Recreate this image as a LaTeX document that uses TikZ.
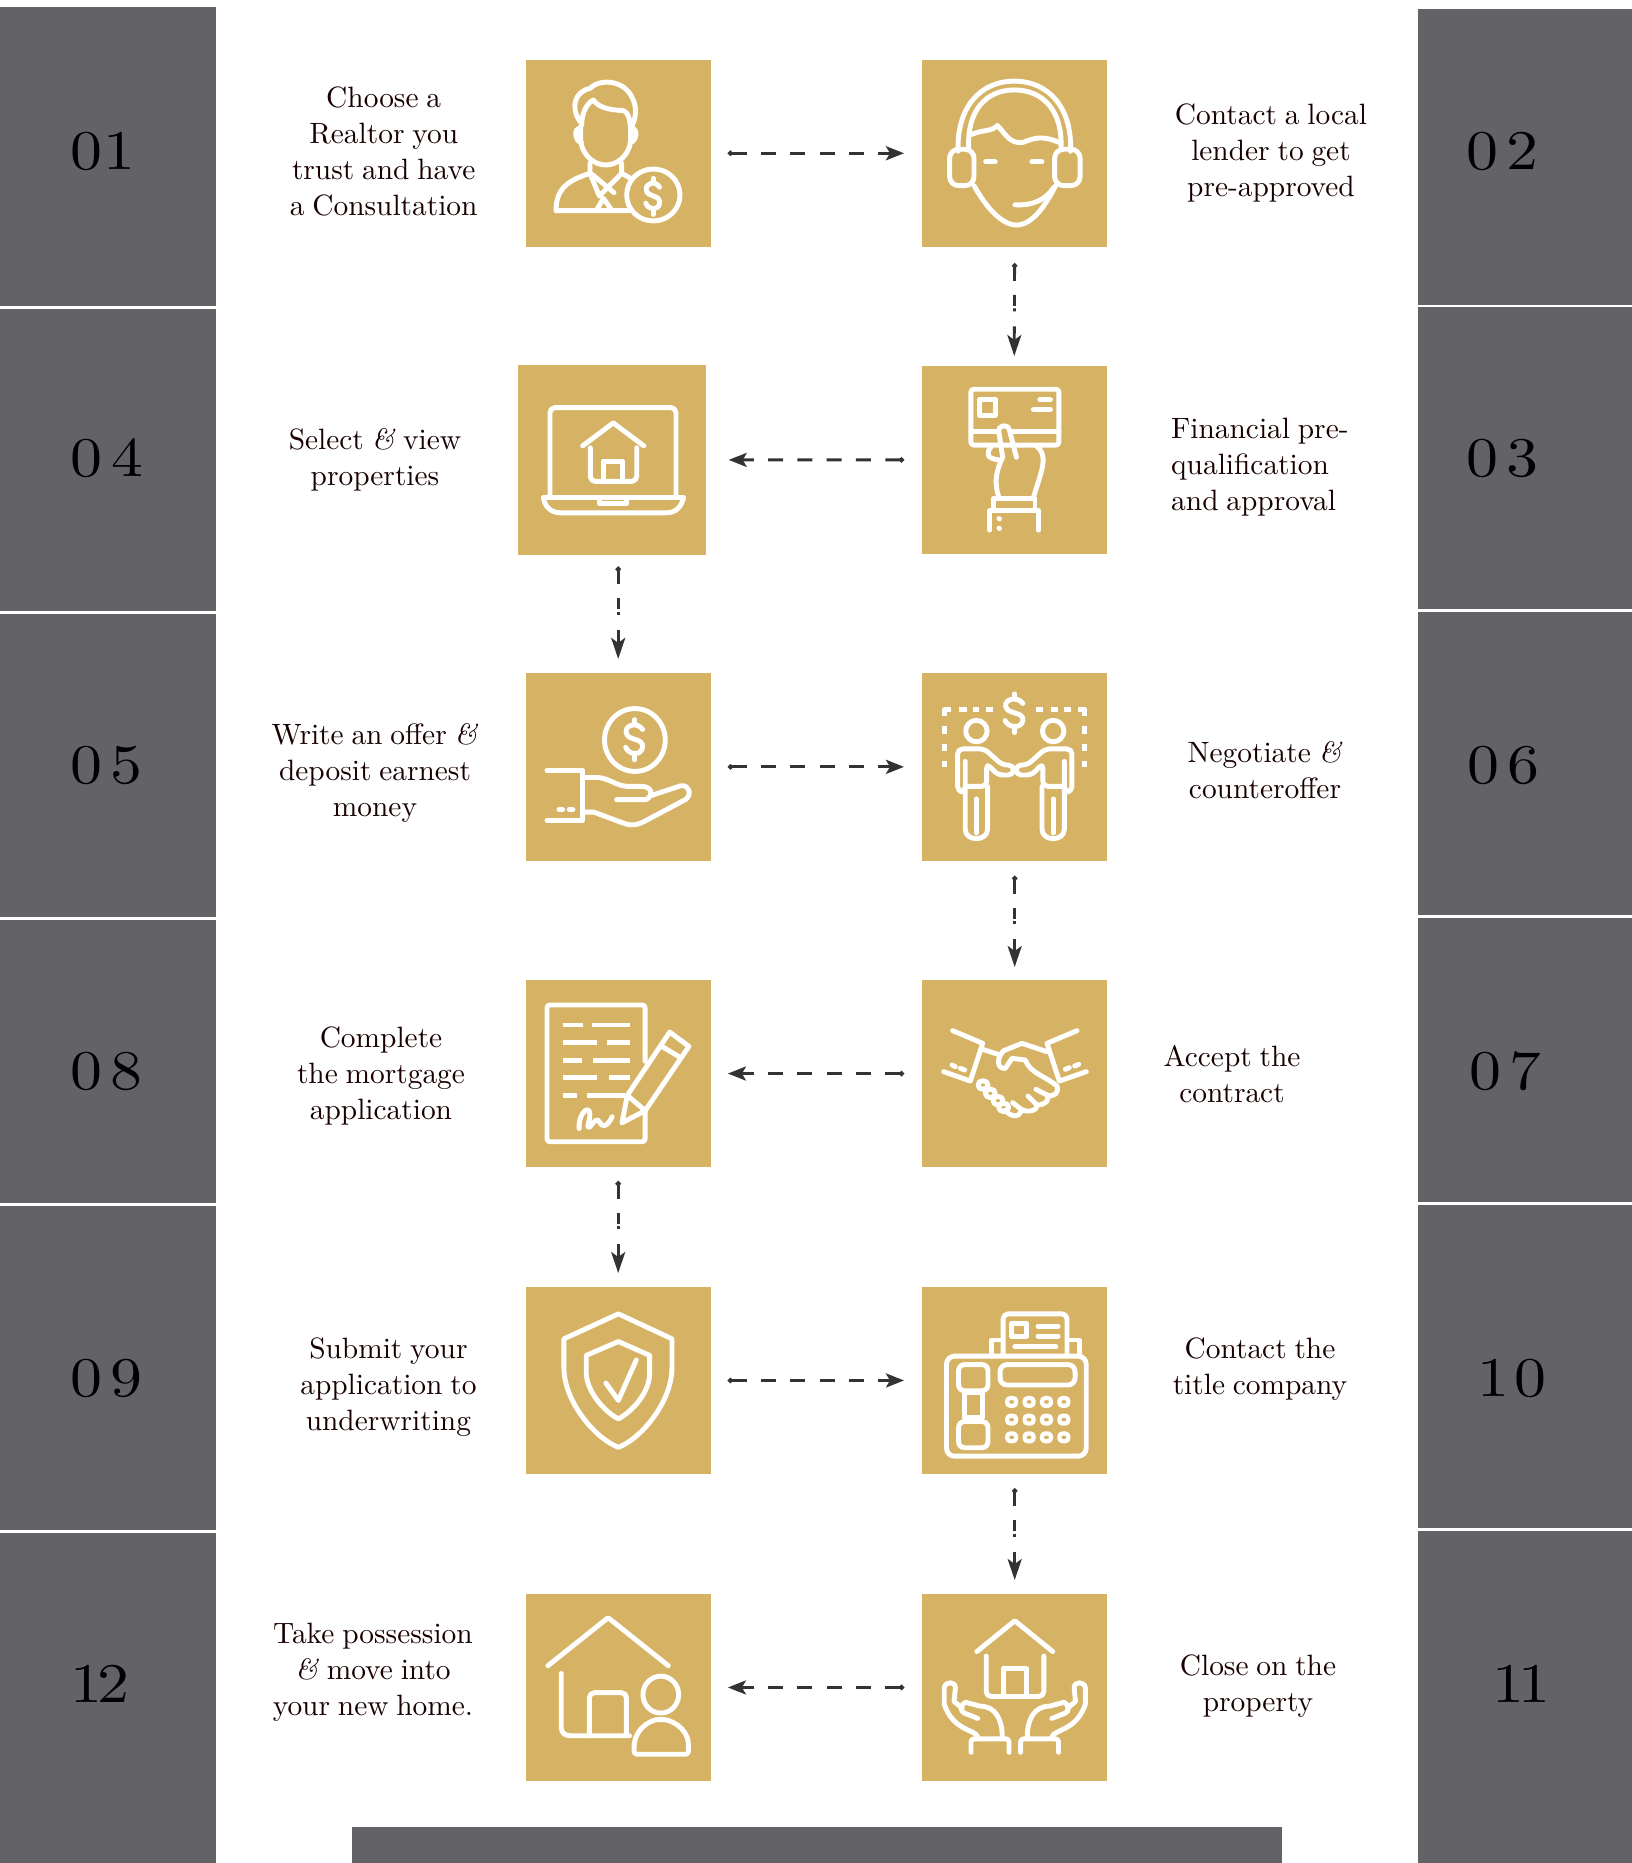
\documentclass[tikz,border=0pt]{standalone}
\usepackage{fontspec}
\usepackage{graphicx}
\setmainfont{lmroman10-regular.otf}[ItalicFont=lmroman10-italic.otf,WordSpace=0.8]
\usetikzlibrary{arrows.meta,calc}
\definecolor{bandgrey}{HTML}{636266}
\definecolor{gold}{HTML}{D6B364}
\definecolor{arrowdark}{HTML}{333333}
\tikzset{
  goldbox/.style={fill=gold,inner sep=0pt,anchor=north west,minimum width=#1,minimum height=187.5pt},
  ic/.style={draw=white,line width=4.9pt,line join=round,line cap=round,fill=none},
  lab/.style={text=black!90!red,align=center,inner sep=0pt,font=\fontsize{29.4}{36}\selectfont},
  numb/.style={text=black,inner sep=0pt,anchor=base west,font=\fontsize{56}{60}\selectfont},
  hlink/.style={draw=arrowdark,line width=3pt,dash pattern=on 15pt off 14.3pt,
    {Circle[length=5pt]}-{Stealth[length=18pt,width=14pt,inset=4pt]}},
  vlink/.style={draw=arrowdark,line width=2.8pt,dash pattern=on 14pt off 14pt on 11pt off 2.5pt on 3pt off 15pt on 100pt off 1pt,
    {Circle[length=5pt]}-{Stealth[length=21pt,width=14pt,inset=5pt]}},
  zA/.style={x=0.5102pt,y=-0.3827pt},
  zB/.style={x=0.5305pt,y=-0.3827pt},
  zC/.style={x=0.4464pt,y=-0.3571pt},
  zD/.style={x=0.4464pt,y=-0.3846pt},
  zT/.style={x=0.3333pt,y=-0.3333pt},
}
\newcommand\dollarmark[4]{\begin{scope}[shift={(#1,#2)},xscale=#3,yscale=#4]
  \draw[ic] (15,-22) .. controls (5,-40) and (-20,-32) .. (-17,-15) .. controls (-14,5) and (17,-5) .. (15,18) .. controls (12,38) and (-12,35) .. (-18,18);
  \draw[ic] (0,-44)--(0,-34) (0,34)--(0,46);
\end{scope}}
\newcommand\nm[3][7pt]{\scalebox{1.14}[1]{#2\kern#1 #3}}
\begin{document}
\begin{tikzpicture}[x=1pt,y=-1pt]
\useasboundingbox (0,0) rectangle (1632,1863);
\fill[white] (0,0) rectangle (1632,1863);
% side bands
\foreach \t/\b in {7/306,309/611,614/917,920/1203,1206/1530,1533/1863}
  \fill[bandgrey] (0,\t) rectangle (216,\b);
\foreach \t/\b in {9/304.5,307/609,611.5/915,918/1202,1205/1528,1531/1863}
  \fill[bandgrey] (1418,\t) rectangle (1632,\b);
\fill[bandgrey] (351.6,1826.5) rectangle (1281.6,1863);
% numbers
\node[numb] (n01) at (70.5,169.5) {\nm[1pt]{0}{1}};
\node[numb] (n04) at (70.5,476) {\nm[8pt]{0}{4}};
\node[numb] (n05) at (70.5,783) {\nm{0}{5}};
\node[numb] (n08) at (70.5,1089) {\nm{0}{8}};
\node[numb] (n09) at (70.5,1396) {\nm{0}{9}};
\node[numb] (n12) at (70,1702) {\nm[-4pt]{1}{2}};
\node[numb] (n02) at (1466,169.5) {\nm{0}{2}};
\node[numb] (n03) at (1466,476) {\nm{0}{3}};
\node[numb] (n06) at (1467,783) {\nm{0}{6}};
\node[numb] (n07) at (1469,1089) {\nm{0}{7}};
\node[numb] (n10) at (1477,1396) {\nm[5pt]{1}{0}};
\node[numb] (n11) at (1492,1702) {\nm[-5pt]{1}{1}};
% gold boxes
\node[goldbox=185pt] (b1) at (525.5,59.3) {};
\node[goldbox=185pt] (b2) at (922,59.3) {};
\node[goldbox=185pt] (b3) at (921.5,366) {};
\node[goldbox=188pt,minimum height=190pt] (b4) at (517.3,364.7) {};
\node[goldbox=185pt] (b5) at (525.5,672.9) {};
\node[goldbox=185pt] (b6) at (922,672.9) {};
\node[goldbox=185pt] (b7) at (922,979.6) {};
\node[goldbox=185pt] (b8) at (525.5,979.6) {};
\node[goldbox=185pt] (b9) at (525.5,1286.5) {};
\node[goldbox=185pt] (b10) at (922,1286.5) {};
\node[goldbox=185pt] (b11) at (922,1593.5) {};
\node[goldbox=185pt] (b12) at (525.5,1593.5) {};
% labels
\node[lab] (t1) at (383.7,151) {Choose a\\Realtor you\\trust and have\\a Consultation};
\node[lab] (t2) at (1271,153) {Contact a local\\lender to get\\pre-approved};
\node[lab,align=left,anchor=west] (t3) at (1171,467) {Financial pre-\\qualification\\and approval};
\node[lab] (t4) at (375,460) {Select \textit{\&} view\\properties};
\node[lab] (t5) at (375,773) {Write an offer \textit{\&}\\deposit earnest\\money};
\node[lab] (t6) at (1265,770) {Negotiate \textit{\&}\\counteroffer};
\node[lab] (t7) at (1232,1074) {Accept the\\contract};
\node[lab] (t8) at (381,1076) {Complete\\the mortgage\\application};
\node[lab] (t9) at (388.4,1387) {Submit your\\application to\\underwriting};
\node[lab] (t10) at (1260,1369) {Contact the\\title company};
\node[lab] (t11) at (1258,1686) {Close on the\\property};
\node[lab] (t12) at (373,1672.5) {Take possession\\\textit{\&} move into\\your new home.};
% connectors
\draw[hlink,shorten <=17pt,shorten >=18pt] (b1.east) -- (b2.west);
\draw[vlink,shorten <=16pt,shorten >=10pt] (b2.south) -- (b3.north);
\draw[hlink,shorten <=17.5pt,shorten >=23pt] (b3.west) -- (b4.east);
\draw[vlink,shorten <=11.6pt,shorten >=14pt] (b5.north |- b4.south) -- (b5.north);
\draw[hlink,shorten <=17pt,shorten >=18pt] (b5.east) -- (b6.west);
\draw[vlink,shorten <=15pt,shorten >=12.6pt] (b6.south) -- (b7.north);
\draw[hlink,shorten <=18pt,shorten >=17pt] (b7.west) -- (b8.east);
\draw[vlink,shorten <=13.7pt,shorten >=13.5pt] (b8.south) -- (b9.north);
\draw[hlink,shorten <=17pt,shorten >=18pt] (b9.east) -- (b10.west);
\draw[vlink,shorten <=14pt,shorten >=13.5pt] (b10.south) -- (b11.north);
\draw[hlink,shorten <=18pt,shorten >=17pt] (b11.west) -- (b12.east);
% icon 1: advisor
\begin{scope}[shift={(540,70)},zT]
\draw[ic] (120,155) .. controls (90,110) and (105,65) .. (150,55) .. controls (180,25) and (250,30) .. (275,80) .. controls (295,115) and (285,150) .. (275,170);
\draw[ic] (125,165) .. controls (125,130) and (140,100) .. (160,90) .. controls (180,120) and (230,120) .. (250,122) .. controls (270,130) and (270,160) .. (272,180);
\draw[ic] (120,175) .. controls (100,175) and (105,215) .. (125,218);
\draw[ic] (275,175) .. controls (295,175) and (290,215) .. (270,218);
\draw[ic] (122,170) -- (122,215) .. controls (130,260) and (165,285) .. (197,285) .. controls (230,285) and (265,260) .. (272,215) -- (272,175);
\draw[ic] (150,280) -- (150,310) -- (130,317) .. controls (80,335) and (48,360) .. (48,422) -- (268,422);
\draw[ic] (245,280) -- (245,310) -- (272,325);
\draw[ic] (150,310) -- (178,378) -- (245,310);
\draw[ic] (155,312) -- (222,368);
\draw[ic] (170,420) -- (190,385) -- (215,420);
\draw[ic] (340,375) ellipse [x radius=80,y radius=78];
\dollarmark{340}{378}{1.25}{1.2}
\end{scope}
% icon 2: headset
\begin{scope}[shift={(800,0)},zB]
\draw[ic] (298,395) .. controls (295,280) and (340,212) .. (404,212) .. controls (468,212) and (513,280) .. (510,395);
\draw[ic] (318,385) .. controls (315,290) and (350,235) .. (404,235) .. controls (458,235) and (495,290) .. (492,385);
\draw[ic,rounded corners=9pt] (328,390) -- (282,390) -- (282,485) -- (328,485) -- cycle;
\draw[ic,rounded corners=9pt] (480,390) -- (528,390) -- (528,485) -- (480,485) -- cycle;
\draw[ic] (322,352) .. controls (345,338) and (360,345) .. (372,328) .. controls (385,345) and (395,378) .. (420,372) .. controls (440,362) and (455,352) .. (488,372);
\draw[ic] (328,485) .. controls (350,540) and (380,588) .. (408,588) .. controls (440,588) and (465,530) .. (482,485);
\draw[ic] (350,423) -- (368,423) (437,423) -- (456,423);
\draw[ic] (405,535) .. controls (440,538) and (465,520) .. (478,490);
\end{scope}
% icon 3: card and hand
\begin{scope}[shift={(800,0)},zB]
\draw[ic,rounded corners=3pt] (322,1017) rectangle (488,1163);
\draw[ic] (322,1128) -- (370,1128) (400,1128) -- (488,1128);
\draw[ic] (338,1043) rectangle (368,1085);
\draw[ic] (452,1045) -- (472,1045) (440,1070) -- (472,1070);
\draw[ic] (408,1195) -- (395,1125) .. controls (392,1105) and (372,1110) .. (375,1130) -- (382,1195) .. controls (370,1230) and (365,1260) .. (375,1300);
\draw[ic] (360,1168) .. controls (350,1185) and (352,1198) .. (375,1202);
\draw[ic] (445,1165) .. controls (470,1190) and (455,1230) .. (440,1300);
\draw[ic] (365,1330) -- (365,1302) -- (443,1302) -- (443,1330);
\draw[ic] (358,1385) -- (358,1335) -- (450,1335) -- (450,1385);
\draw[ic] (375,1355) -- (376,1356) (375,1380) -- (376,1381);
\end{scope}
% icon 4: laptop
\begin{scope}[zA]
\draw[ic,rounded corners=5pt] (1078,1295) -- (1078,1065) -- (1325,1065) -- (1325,1295);
\draw[ic] (1065,1300) -- (1340,1300) .. controls (1335,1325) and (1325,1340) .. (1305,1340) -- (1100,1340) .. controls (1080,1340) and (1068,1325) .. (1065,1300);
\draw[ic] (1175,1300) -- (1175,1316) -- (1228,1316) -- (1228,1300);
\draw[ic] (1142,1165) -- (1202,1105) -- (1262,1165);
\draw[ic,rounded corners=5pt] (1157,1170) -- (1157,1258) -- (1248,1258) -- (1248,1170);
\draw[ic] (1182,1258) -- (1182,1205) -- (1220,1205) -- (1220,1258);
\end{scope}
% icon 5: hand and coin
\begin{scope}[shift={(480,640)},zC]
\draw[ic] (347,280) ellipse [x radius=68,y radius=88];
\dollarmark{347}{278}{1.15}{1.25}
\draw[ic] (150,365) -- (230,365) -- (230,505) -- (150,505);
\draw[ic] (177,475) -- (185,475) (200,475) -- (208,475);
\draw[ic] (232,385) -- (265,385) .. controls (290,388) and (305,408) .. (330,410) -- (365,410) .. controls (385,412) and (390,435) .. (372,447) -- (306,447);
\draw[ic] (385,435) -- (450,408) .. controls (470,405) and (475,435) .. (460,447) -- (365,510) .. controls (345,522) and (330,518) .. (315,510) -- (255,482) -- (232,482);
\end{scope}
% icon 6: negotiation
\begin{scope}[shift={(480,640)},zC]
\dollarmark{1198}{204}{1.2}{1.2}
\draw[ic,line cap=butt] (1040,213) -- (1040,195) -- (1054,195) (1073,195) -- (1090,195) (1104,195) -- (1118,195) (1134,195) -- (1150,195)
  (1246,195) -- (1262,195) (1278,195) -- (1294,195) (1308,195) -- (1324,195) (1340,195) -- (1355,195) -- (1355,213)
  (1040,240) -- (1040,262) (1040,290) -- (1040,312) (1040,340) -- (1040,356)
  (1355,240) -- (1355,262) (1355,290) -- (1355,312) (1355,340) -- (1355,356);
\foreach \m in {0,1}{
\begin{scope}[shift={(2396*\m,0)},xscale=1-2*\m]
\draw[ic] (1112,255) ellipse [x radius=24,y radius=30];
\draw[ic,rounded corners=5pt] (1087,340) -- (1087,425) -- (1070,425) -- (1070,305) -- (1130,305) -- (1170,350) -- (1195,350) -- (1195,378) -- (1160,378) -- (1135,345) -- (1135,410) -- (1087,410);
\draw[ic] (1087,410) -- (1087,530) .. controls (1087,565) and (1137,565) .. (1137,530) -- (1137,410);
\draw[ic] (1112,445) -- (1112,540);
\end{scope}}
\end{scope}
% icon 7: handshake
\begin{scope}[shift={(922,1010)},zT]
\draw[ic] (92,62) -- (182,100) -- (145,213) -- (65,185);
\draw[ic] (465,62) -- (375,100) -- (412,213) -- (493,185);
\draw[ic] (90,165) -- (100,170) (115,175) -- (128,180) (430,178) -- (442,173) (458,168) -- (470,163);
\draw[ic] (182,118) -- (228,133);
\draw[ic] (375,125) -- (300,100) -- (245,122) .. controls (222,145) and (225,178) .. (250,175) -- (270,145) -- (310,150) .. controls (325,190) and (365,195) .. (405,228) .. controls (412,250) and (395,262) .. (375,255) -- (342,238);
\foreach \p/\q in {183/225,205/250,228/272,245/292}
  \draw[ic] (\p,\q) ellipse [x radius=15,y radius=13];
\draw[ic] (250,300) .. controls (265,322) and (295,325) .. (298,298) .. controls (320,310) and (348,300) .. (345,285) .. controls (370,285) and (385,270) .. (375,255);
\draw[ic] (272,278) -- (298,298) (318,258) -- (345,285);
\end{scope}
% icon 8: document
\begin{scope}[shift={(480,640)},zC]
\draw[ic,rounded corners=3pt] (370,1180) -- (370,1022) -- (150,1022) -- (150,1405) -- (370,1405) -- (370,1320);
\draw[ic,line cap=butt] (185,1078) -- (230,1078) (250,1078) -- (335,1078) (185,1128) -- (262,1128) (285,1128) -- (335,1128) (185,1177) -- (228,1177) (254,1177) -- (335,1177) (185,1226) -- (262,1226) (290,1226) -- (335,1226) (185,1275) -- (218,1275) (240,1275) -- (325,1275);
\draw[ic] (330,1275) -- (425,1098) -- (468,1138) -- (370,1318) -- (318,1352) -- cycle;
\draw[ic] (330,1275) -- (370,1318) (410,1140) -- (450,1170);
\draw[ic] (222,1368) .. controls (220,1330) and (240,1305) .. (245,1320) .. controls (250,1340) and (235,1370) .. (245,1365) .. controls (255,1350) and (262,1335) .. (268,1350) .. controls (272,1365) and (285,1365) .. (296,1335);
\end{scope}
% icon 9: shield
\begin{scope}[shift={(480,1260)},zD]
\draw[ic] (310,140) -- (430,205) -- (430,280) .. controls (430,370) and (360,465) .. (310,487) .. controls (260,465) and (188,370) .. (188,280) -- (188,205) -- cycle;
\draw[ic] (310,212) -- (380,248) -- (380,295) .. controls (380,345) and (340,395) .. (310,413) .. controls (280,395) and (240,345) .. (238,295) -- (238,248) -- cycle;
\draw[ic] (282,320) -- (310,365) -- (350,260);
\end{scope}
% icon 10: fax
\begin{scope}[shift={(480,1260)},zD]
\draw[ic,rounded corners=8pt] (1045,250) rectangle (1358,510);
\draw[ic,rounded corners=6pt] (1072,272) rectangle (1138,340);
\draw[ic,rounded corners=6pt] (1072,420) rectangle (1138,488);
\draw[ic] (1085,345) -- (1125,345) -- (1125,410) -- (1085,410) -- cycle;
\draw[ic,rounded corners=7pt] (1165,272) rectangle (1333,325);
\foreach \p in {1191,1230,1269,1308}\foreach \q in {369,415,461}
  \draw[ic,line width=4.2pt,rounded corners=3pt] (\p-10,\q-10) rectangle (\p+10,\q+10);
\draw[ic,rounded corners=5pt] (1172,245) -- (1172,140) -- (1315,140) -- (1315,245);
\draw[ic] (1172,208) -- (1145,208) -- (1145,250) (1315,208) -- (1342,208) -- (1342,250);
\draw[ic] (1190,165) rectangle (1224,198);
\draw[ic] (1250,172) -- (1295,172) (1250,198) -- (1295,198) (1198,226) -- (1290,226);
\end{scope}
% icon 11: hands and house
\begin{scope}[shift={(480,1260)},zD]
\draw[ic] (1113,1018) -- (1198,938) -- (1283,1018);
\draw[ic,rounded corners=5pt] (1134,1030) -- (1134,1135) -- (1263,1135) -- (1263,1030);
\draw[ic] (1172,1135) -- (1172,1063) -- (1224,1063) -- (1224,1135);
\foreach \m in {0,1}{
\begin{scope}[shift={(2396*\m,0)},xscale=1-2*\m]
\draw[ic] (1115,1240) .. controls (1110,1220) and (1060,1225) .. (1040,1155) -- (1040,1112) .. controls (1042,1095) and (1065,1095) .. (1065,1112) -- (1062,1148) -- (1080,1165);
\draw[ic] (1088,1150) -- (1120,1160) .. controls (1155,1160) and (1170,1195) .. (1170,1240);
\draw[ic] (1088,1150) .. controls (1072,1160) and (1078,1175) .. (1085,1178) -- (1115,1192);
\draw[ic,rounded corners=3pt] (1100,1280) -- (1100,1245) -- (1185,1245) -- (1185,1280);
\end{scope}}
\end{scope}
% icon 12: home and person
\begin{scope}[shift={(480,1260)},zD]
\draw[ic] (152,1055) -- (287,930) -- (422,1055);
\draw[ic] (182,1075) -- (182,1215) .. controls (182,1232) and (192,1237) .. (205,1237) -- (335,1237);
\draw[ic,rounded corners=5pt] (245,1237) -- (245,1125) -- (328,1125) -- (328,1237);
\draw[ic] (405,1130) ellipse [x radius=40,y radius=48];
\draw[ic,rounded corners=3pt] (345,1285) -- (345,1265) .. controls (350,1215) and (385,1195) .. (405,1195) .. controls (425,1195) and (465,1215) .. (467,1265) -- (467,1285) -- cycle;
\end{scope}
\end{tikzpicture}
\end{document}
